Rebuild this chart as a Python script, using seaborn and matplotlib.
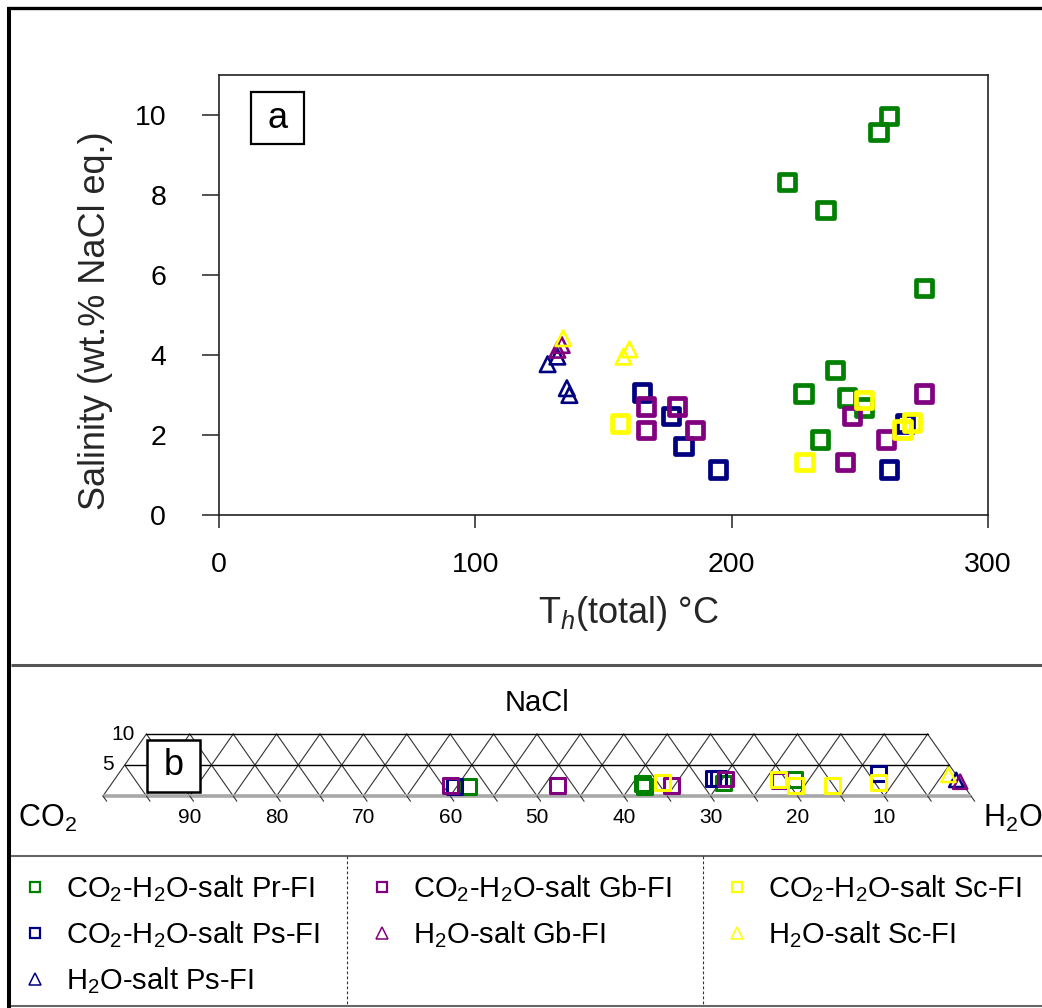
import matplotlib
matplotlib.use("Agg")
import matplotlib.pyplot as plt
from matplotlib.lines import Line2D
from matplotlib.patches import Rectangle
import numpy as np
import pandas as pd
import seaborn as sns

W, H = 1042, 1008

# ---- data ---------------------------------------------------------------
# (a) Th(total) in degC and salinity in wt.% NaCl eq.
pr_sq_th = [261.3, 257.3, 221.7, 236.6, 275.1, 240.3, 228.0, 244.9, 251.6, 234.5]
pr_sq_sal = [9.98, 9.58, 8.33, 7.63, 5.67, 3.63, 3.04, 2.94, 2.69, 1.89]
ps_sq_th = [165.0, 176.2, 181.2, 194.7, 261.3, 267.6]
ps_sq_sal = [3.06, 2.48, 1.73, 1.14, 1.14, 2.29]
ps_tri_th = [128.2, 132.0, 135.7, 136.7]
ps_tri_sal = [3.77, 3.96, 3.17, 3.00]
gb_sq_th = [166.6, 166.6, 178.8, 185.8, 275.1, 246.8, 260.1, 244.1]
gb_sq_sal = [2.71, 2.13, 2.71, 2.13, 3.04, 2.48, 1.89, 1.33]
gb_tri_th = [132.0, 133.7]
gb_tri_sal = [4.13, 4.25]
sc_sq_th = [156.5, 228.4, 251.7, 270.3, 266.6]
sc_sq_sal = [2.29, 1.33, 2.88, 2.31, 2.14]
sc_tri_th = [134.3, 157.8, 160.1]
sc_tri_sal = [4.42, 3.96, 4.14]

# (b) bulk composition, CO2 and NaCl (mol %), H2O is the rest
pr_sq_co2 = [57.1, 36.8, 36.9, 27.5, 19.0]
pr_sq_nacl = [1.5, 2.05, 1.5, 2.1, 2.6]
ps_sq_co2 = [58.8, 28.3, 27.7, 8.8]
ps_sq_nacl = [1.5, 2.85, 2.85, 3.65]
ps_tri_co2 = [0.4]
ps_tri_nacl = [2.6]
gb_sq_co2 = [59.1, 46.8, 33.7, 26.9, 20.8]
gb_sq_nacl = [1.65, 1.65, 1.65, 2.75, 2.45]
gb_tri_co2 = [0.1]
gb_tri_nacl = [2.3]
sc_sq_co2 = [34.4, 20.9, 19.3, 15.1, 9.6]
sc_sq_nacl = [2.2, 2.6, 1.75, 1.65, 2.2]
sc_tri_co2 = [0.9]
sc_tri_nacl = [3.4]

groups = ["pr_sq", "ps_sq", "ps_tri", "gb_sq", "gb_tri", "sc_sq", "sc_tri"]
labels = [
    r"CO$_2$-H$_2$O-salt Pr-FI",
    r"CO$_2$-H$_2$O-salt Ps-FI",
    r"H$_2$O-salt Ps-FI",
    r"CO$_2$-H$_2$O-salt Gb-FI",
    r"H$_2$O-salt Gb-FI",
    r"CO$_2$-H$_2$O-salt Sc-FI",
    r"H$_2$O-salt Sc-FI",
]
x_ticks = [0, 100, 200, 300]
y_ticks = [0, 2, 4, 6, 8, 10]
b_ticks = [90, 80, 70, 60, 50, 40, 30, 20, 10]

# ---- styles -------------------------------------------------------------
colors = ["#008000", "#000080", "#000080", "#800080", "#800080", "#ffff00", "#ffff00"]
markers = ["s", "s", "^", "s", "^", "s", "^"]

sns.set_theme(style="ticks")
plt.rcParams["font.family"] = ["Liberation Sans", "DejaVu Sans"]
plt.rcParams["mathtext.fontset"] = "custom"
plt.rcParams["mathtext.rm"] = "Liberation Sans"
plt.rcParams["mathtext.it"] = "Liberation Sans:italic"
plt.rcParams["mathtext.bf"] = "Liberation Sans:bold"
plt.rcParams["text.color"] = "black"
plt.rcParams["xtick.labelcolor"] = "black"
plt.rcParams["ytick.labelcolor"] = "black"

df_a = pd.concat([
    pd.DataFrame({"group": g, "th": globals()[g + "_th"], "sal": globals()[g + "_sal"]})
    for g in groups
], ignore_index=True)
df_b = pd.concat([
    pd.DataFrame({"group": g, "co2": globals()[g + "_co2"], "nacl": globals()[g + "_nacl"]})
    for g in groups
], ignore_index=True)


def tern_xy(co2, nacl):
    # CO2 vertex left, H2O vertex right, NaCl up (strip 0-10 %)
    co2 = np.asarray(co2, dtype=float)
    nacl = np.asarray(nacl, dtype=float)
    h2o = 100.0 - co2 - nacl
    return (h2o + nacl / 2.0) / 100.0, nacl


df_b["tx"], df_b["ty"] = tern_xy(df_b["co2"], df_b["nacl"])


def fx(px):
    return px / W


def fy(py):
    return 1 - py / H


fig = plt.figure(figsize=(W / 100, H / 100), dpi=100)

# ---- panel a ------------------------------------------------------------
ax_a = fig.add_axes([fx(219), fy(515), (988 - 219) / W, (515 - 75) / H])
for g, mk, col in zip(groups, markers, colors):
    d = df_a[df_a["group"] == g]
    if mk == "s":
        s, lw = 137, 3.4
    else:
        s, lw = 125, 1.9
    sns.scatterplot(data=d, x="th", y="sal", marker=mk, s=s, color=col,
                    facecolor="none", edgecolor=col, linewidth=lw,
                    ax=ax_a, legend=False, zorder=3)

ax_a.set_xlim(0, 300)
ax_a.set_ylim(0, 11)
ax_a.set_xticks(x_ticks)
ax_a.set_xticklabels([str(t) for t in x_ticks])
ax_a.set_yticks(y_ticks)
ax_a.set_yticklabels([str(t) for t in y_ticks])
for sp in ax_a.spines.values():
    sp.set_color("#222222")
    sp.set_linewidth(1.2)
ax_a.tick_params(axis="y", direction="out", length=12, width=1.1, color="#222222",
                 labelsize=20.5, pad=26)
ax_a.tick_params(axis="x", direction="out", length=9, width=1.1, color="#222222",
                 labelsize=20.5, pad=18)
ax_a.set_ylabel("Salinity (wt.% NaCl eq.)", fontsize=26)
ax_a.set_xlabel(r"T$_{h}$(total) °C", fontsize=26)
ax_a.yaxis.set_label_coords(-0.138, 0.442)
ax_a.xaxis.set_label_coords(0.533, -0.179)
ax_a.add_patch(Rectangle((0.0416, 0.843), 0.069, 0.118, transform=ax_a.transAxes,
                         facecolor="white", edgecolor="black", lw=1.6, zorder=5))
ax_a.text(0.0761, 0.902, "a", transform=ax_a.transAxes, ha="center", va="center",
          fontsize=26, zorder=6)

# ---- panel b: ternary strip ---------------------------------------------
TRI_X0, TRI_W, BASE_Y, PX_PCT = 103, 868, 796, 6.2
ax_b = fig.add_axes([0, fy(855), 1, (855 - 665) / H])
ax_b.axis("off")

grid_col = "#333333"
for k in range(5, 100, 5):
    n_top = min(10, 100 - k)
    xs, ys = tern_xy([k, k], [0, n_top])
    ax_b.plot(xs, ys, color=grid_col, lw=0.8, zorder=1)
    xs, ys = tern_xy([100 - k, 100 - k - n_top], [0, n_top])
    ax_b.plot(xs, ys, color=grid_col, lw=0.8, zorder=1)
for c0, c1 in [(100, 90), (0, 0)]:
    xs, ys = tern_xy([c0, c1], [0, 10])
    ax_b.plot(xs, ys, color=grid_col, lw=0.8, zorder=1)
for n, c0 in [(5, 95), (10, 90)]:
    xs, ys = tern_xy([c0, 0], [n, n])
    ax_b.plot(xs, ys, color="black", lw=1.0, zorder=1)
xs, ys = tern_xy([100, 0], [0, 0])
ax_b.plot(xs, ys, color="#a8a8a8", lw=2.6, zorder=1, solid_capstyle="butt")
for k in range(0, 101, 5):
    xs, ys = tern_xy([k, k], [0, -0.85])
    ax_b.plot(xs, ys, color=grid_col, lw=0.8, zorder=1)

for v in b_ticks:
    tx, _ = tern_xy(v, 0)
    ax_b.text(tx, -3.4, str(v), ha="center", va="center", fontsize=15)
for n in [10, 5]:
    tx, _ = tern_xy(100 - n, n)
    ax_b.text(tx - 0.013, n, str(n), ha="right", va="center", fontsize=15)
ax_b.text(0.5, 15.0, "NaCl", ha="center", va="center", fontsize=21)
ax_b.text(-0.098, -5.0, r"CO$_2$", ha="left", va="baseline", fontsize=22)
ax_b.text(1.0138, -5.0, r"H$_2$O", ha="left", va="baseline", fontsize=22)

ax_b.add_patch(Rectangle((0.0507, 0.65), 0.0611, 8.39, facecolor="white",
                         edgecolor="black", lw=1.8, zorder=4))
ax_b.text(0.0812, 4.84, "b", ha="center", va="center", fontsize=26, zorder=5)

for g, mk, col in zip(groups, markers, colors):
    d = df_b[df_b["group"] == g]
    if mk == "s":
        s, lw = 115, 2.2
    else:
        s, lw = 105, 1.8
    sns.scatterplot(data=d, x="tx", y="ty", marker=mk, s=s, color=col,
                    facecolor="none", edgecolor=col, linewidth=lw,
                    ax=ax_b, legend=False, zorder=3)
ax_b.set_xlim(-TRI_X0 / TRI_W, (W - TRI_X0) / TRI_W)
ax_b.set_ylim((BASE_Y - 855) / PX_PCT, (BASE_Y - 665) / PX_PCT)

# ---- legend -------------------------------------------------------------
def handle(mk, col):
    if mk == "s":
        return Line2D([], [], ls="none", marker="s", ms=7, mew=1.6, mec=col, mfc="none")
    return Line2D([], [], ls="none", marker="^", ms=8.5, mew=1.1, mec=col, mfc="none")


fs_leg = 21
for idx, xm in zip([[0, 1, 2], [3, 4], [5, 6]], [35, 382, 737]):
    fig.legend(handles=[handle(markers[i], colors[i]) for i in idx],
               labels=[labels[i] for i in idx], loc="upper left",
               bbox_to_anchor=(fx(xm - 14.6), fy(873)), frameon=False,
               fontsize=fs_leg, handlelength=1.0, handletextpad=0.55,
               labelspacing=0.52, borderpad=0, borderaxespad=0)

# ---- frame / separators -------------------------------------------------
def fig_line(x0, y0, x1, y1, **kw):
    fig.add_artist(Line2D([fx(x0), fx(x1)], [fy(y0), fy(y1)],
                          transform=fig.transFigure, **kw))


fig_line(8.7, 6.5, 8.7, H, color="black", lw=2.9, solid_capstyle="butt")
fig_line(7, 8.4, W, 8.4, color="black", lw=2.4, solid_capstyle="butt")
fig_line(11, 665, W, 665, color="#555555", lw=2.2, solid_capstyle="butt")
fig_line(11, 855.5, W, 855.5, color="#666666", lw=1.5, solid_capstyle="butt")
fig_line(11, 1005.5, W, 1005.5, color="#666666", lw=1.5, solid_capstyle="butt")
for xd in [347, 703]:
    fig_line(xd, 856, xd, 1005, color="#333333", lw=0.8, ls=(0, (2.5, 2)))

fig.savefig("out.png", dpi=100)
